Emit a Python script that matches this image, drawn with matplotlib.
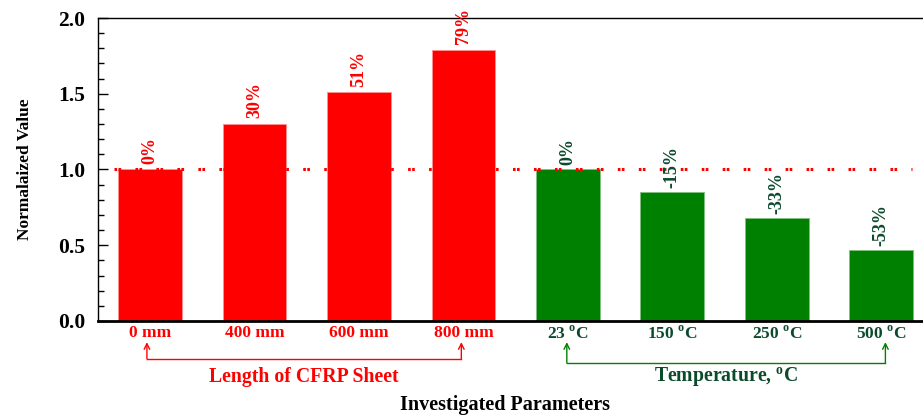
import matplotlib.pyplot as plt
from matplotlib.ticker import MultipleLocator

plt.rcParams['font.family'] = ['Liberation Serif', 'DejaVu Serif']
plt.rcParams['font.weight'] = 'bold'
plt.rcParams['mathtext.fontset'] = 'custom'
plt.rcParams['mathtext.rm'] = 'Liberation Serif:bold'
plt.rcParams['lines.scale_dashes'] = False

# normalized results: CFRP sheet length group, then temperature group
length_labels = ['0 mm', '400 mm', '600 mm', '800 mm']
length_vals = [1.0, 1.30, 1.51, 1.79]
length_pct = ['0%', '30%', '51%', '79%']

temp_labels = ['23 $^{\\rm o}$C', '150 $^{\\rm o}$C', '250 $^{\\rm o}$C', '500 $^{\\rm o}$C']
temp_vals = [1.0, 0.85, 0.68, 0.47]
temp_pct = ['0%', '-15%', '-33%', '-53%']

red = '#ff0000'
green = '#008000'
dkgreen = '#0c4a2c'

fig = plt.figure(figsize=(9.23, 4.19), dpi=100)
ax = fig.add_axes([0.106, 0.234, 0.894, 0.723])

xr = list(range(len(length_vals)))
xg = [i + len(length_vals) for i in range(len(temp_vals))]

ax.bar(xr, length_vals, width=0.61, color=red, edgecolor='#ff9090', linewidth=0.6, zorder=2)
ax.bar(xg, temp_vals, width=0.61, color=green, edgecolor='#80c080', linewidth=0.6, zorder=2)

# reference line at 1.0
ax.plot([-0.35, 7.29], [1.0, 1.0], color=red, linestyle=(0, (1.9, 1.0, 1.9, 10.3)),
        linewidth=2.2, zorder=3)

for x, v, p in zip(xr, length_vals, length_pct):
    ax.annotate(p, (x, v), xytext=(0, 4), textcoords='offset points', rotation=90,
                ha='center', va='bottom', color=red, fontsize=13, fontweight='bold')
for x, v, p in zip(xg, temp_vals, temp_pct):
    ax.annotate(p, (x, v), xytext=(0, 3), textcoords='offset points', rotation=90,
                ha='center', va='bottom', color=dkgreen, fontsize=13, fontweight='bold')

ax.set_xlim(-0.5, 7.4)
ax.set_ylim(0, 2.0)
ax.set_xticks(xr + xg)
ax.set_xticklabels(length_labels + temp_labels, fontsize=12.5, fontweight='bold')
for lbl in ax.get_xticklabels()[:4]:
    lbl.set_color(red)
for lbl in ax.get_xticklabels()[4:]:
    lbl.set_color(dkgreen)
ax.tick_params(axis='x', length=0, pad=3)

ax.yaxis.set_major_locator(MultipleLocator(0.5))
ax.yaxis.set_minor_locator(MultipleLocator(0.1))
ax.set_yticklabels(['%.1f' % t for t in ax.get_yticks()], fontsize=15.5, fontweight='bold')
ax.tick_params(axis='y', which='major', direction='in', length=7, width=1, pad=9)
ax.tick_params(axis='y', which='minor', direction='in', length=4, width=1)
ax.set_ylim(0, 2.0)

ax.spines['right'].set_visible(False)
ax.spines['bottom'].set_linewidth(2)
ax.spines['left'].set_linewidth(1)
ax.spines['top'].set_linewidth(1)

ax.set_ylabel('Normalaized Value', fontsize=12.5, fontweight='bold', labelpad=18)
fig.text(0.547, 1 - 405 / 419, 'Investigated Parameters', ha='center', va='center',
         fontsize=14.5, fontweight='bold')

# group brackets under the tick labels
trans = ax.get_xaxis_transform()
groups = [(-0.03, 2.98, -0.125, red, red, 'Length of CFRP Sheet'),
          (3.99, 7.04, -0.139, green, dkgreen, 'Temperature, $^{\\rm o}$C')]
for x0, x1, yb, col, tcol, name in groups:
    ax.plot([x0, x1], [yb, yb], color=col, linewidth=1, transform=trans, clip_on=False)
    for xa in (x0, x1):
        ax.annotate('', xy=(xa, -0.07), xytext=(xa, yb), xycoords=trans, textcoords=trans,
                    annotation_clip=False,
                    arrowprops=dict(arrowstyle='->', color=col, linewidth=1,
                                    shrinkA=0, shrinkB=0, mutation_scale=10))
    ax.text((x0 + x1) / 2, -0.185, name, transform=trans, ha='center', va='center',
            fontsize=14.2, fontweight='bold', color=tcol)

fig.savefig('out.png', dpi=100)
